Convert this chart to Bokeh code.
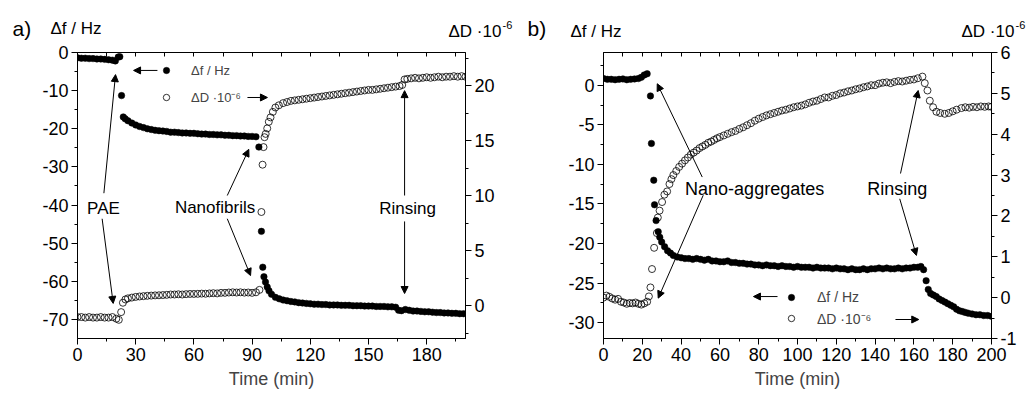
from bokeh.plotting import figure
from bokeh.models import (Range1d, LinearAxis, FixedTicker, Label, Arrow, NormalHead,
                          Legend, LegendItem)
from bokeh.core.properties import value
from bokeh.layouts import row, column
from bokeh.embed import file_html
from bokeh.resources import INLINE

# ---------------- data: panel a (PAE / nanofibrils) ----------------
ta_f = [0, 2, 4, 6, 8, 10, 12, 14, 16, 18,
        19.5, 21, 21.8, 22.7, 23.6, 24.6,
        26,
        28, 30, 32, 34, 36, 38, 40, 42, 44, 46,
        48, 50, 52, 54, 56, 58, 60, 62, 64, 66,
        68, 70, 72, 74, 76, 78, 80, 82, 84, 86,
        88, 90, 92,
        93.5, 94.8, 95.5, 96.1, 96.9, 97.8, 98.7,
        100, 102, 104, 106, 108, 110, 112, 114, 116, 118,
        120, 122, 124, 126, 128, 130, 132, 134, 136, 138,
        140, 142, 144, 146, 148, 150, 152, 154, 156, 158,
        160, 162, 164,
        165.5, 167,
        169, 171, 173, 175, 177, 179, 181, 183, 185, 187,
        189, 191, 193, 195, 197, 199]
fa = [-1.4, -1.5, -1.5, -1.6, -1.6, -1.7, -1.7, -1.8, -1.9, -2.0,
      -2.2, -1.2, -1.1, -11.3, -16.9, -17.4,
      -17.9,
      -18.5, -19.0, -19.4, -19.7, -20.0, -20.2, -20.4, -20.5, -20.6, -20.7,
      -20.9, -20.9, -21.0, -21.1, -21.1, -21.2, -21.2, -21.3, -21.4, -21.4,
      -21.5, -21.5, -21.6, -21.6, -21.7, -21.7, -21.8, -21.8, -21.9, -21.9,
      -22.0, -22.0, -22.1,
      -24.8, -46.9, -56.3, -58.8, -60.2, -61.5, -62.5,
      -63.4, -64.2, -64.6, -64.9, -65.1, -65.3, -65.4, -65.6, -65.7, -65.8,
      -65.9, -66.0, -66.0, -66.1, -66.1, -66.2, -66.2, -66.2, -66.3, -66.3,
      -66.3, -66.4, -66.4, -66.4, -66.5, -66.5, -66.5, -66.6, -66.6, -66.6,
      -66.7, -66.7, -66.8,
      -67.6, -67.7,
      -67.4, -67.6, -67.8, -67.8, -67.9, -68.0, -68.0, -68.1, -68.2, -68.2,
      -68.3, -68.3, -68.4, -68.4, -68.5, -68.5]

ta_d = [0, 2, 4, 6, 8, 10, 12, 14, 16, 18, 20,
        21.3, 22.5, 23.4, 24.7,
        26, 28, 30, 32, 34, 36, 38, 40, 42, 44,
        46, 48, 50, 52, 54, 56, 58, 60, 62, 64,
        66, 68, 70, 72, 74, 76, 78, 80, 82, 84,
        86, 88, 90, 92,
        93.8, 94.8, 95.4, 95.9, 96.4, 97.0, 97.8, 98.6, 99.5, 100.7, 102, 103.8,
        106, 108, 110, 112, 114, 116, 118, 120, 122, 124,
        126, 128, 130, 132, 134, 136, 138, 140, 142, 144,
        146, 148, 150, 152, 154, 156, 158, 160, 162, 164,
        166,
        167.4, 168.6,
        170, 172, 174, 176, 178, 180, 182, 184, 186, 188,
        190, 192, 194, 196, 198, 200]
da = [-1.05, -1.05, -1.1, -1.05, -1.1, -1.1, -1.05, -1.1, -1.1, -1.05, -1.2,
      -1.3, -0.6, 0.25, 0.55,
      0.65, 0.72, 0.78, 0.82, 0.85, 0.88, 0.9, 0.92, 0.93, 0.95,
      0.97, 1.0, 1.0, 1.02, 1.0, 1.03, 1.05, 1.05, 1.06, 1.08,
      1.07, 1.1, 1.12, 1.1, 1.15, 1.15, 1.18, 1.2, 1.18, 1.2,
      1.17, 1.18, 1.15, 1.2,
      1.42, 8.5, 12.8, 14.4, 15.3, 15.6, 16.1, 16.7, 17.1, 17.6, 18.0, 18.2,
      18.4, 18.5, 18.6, 18.65, 18.7, 18.75, 18.8, 18.85, 18.9, 18.95,
      19.0, 19.05, 19.1, 19.15, 19.2, 19.25, 19.3, 19.35, 19.4, 19.45,
      19.5, 19.55, 19.6, 19.6, 19.65, 19.7, 19.75, 19.8, 19.85, 19.9,
      19.95,
      20.05, 20.55,
      20.6, 20.65, 20.7, 20.65, 20.7, 20.75, 20.7, 20.75, 20.8, 20.75,
      20.8, 20.8, 20.85, 20.8, 20.85, 20.8]

# ---------------- data: panel b (nano-aggregates) ----------------
tb_f = [0, 2, 4, 6, 8, 10, 12, 14, 16, 18,
        19.5, 21, 22.5, 24.2, 24.7, 25.9, 26.3, 27.1, 28.2, 29, 30, 31.5, 33, 34.5, 36,
        38, 40,
        42, 44, 46, 48, 50, 52, 54, 56, 58, 60,
        62, 64, 66, 68, 70, 72, 74, 76, 78, 80,
        82, 84, 86, 88, 90, 92, 94, 96, 98, 100,
        102, 104, 106, 108, 110, 112, 114, 116, 118, 120,
        122, 124, 126, 128, 130, 132, 134, 136, 138, 140,
        142, 144, 146, 148, 150, 152, 154, 156, 158, 160,
        162,
        163.6, 165, 166.3, 167.4, 168.6,
        170, 171.5, 173, 174.5, 176, 177.5, 179, 180.5, 182, 183.5, 185, 186.5, 188,
        190, 192, 194, 196, 198, 200]
fb = [0.85, 0.75, 0.75, 0.7, 0.75, 0.8, 0.7, 0.75, 0.8, 0.85,
      1.0, 1.3, 1.45, -1.35, -7.35, -12.0, -15.1, -17.1, -18.5, -19.2, -19.8, -20.4, -20.9, -21.2, -21.5,
      -21.7, -21.8,
      -21.9, -21.9, -22.0, -21.9, -22.0, -22.1, -22.0, -22.2, -22.2, -22.3,
      -22.3, -22.2, -22.4, -22.4, -22.5, -22.5, -22.6, -22.6, -22.7, -22.7,
      -22.8, -22.7, -22.8, -22.8, -22.9, -22.8, -22.9, -22.9, -23.0, -22.9,
      -23.0, -23.0, -23.0, -23.1, -23.0, -23.1, -23.1, -23.1, -23.2, -23.1,
      -23.2, -23.2, -23.3, -23.2, -23.3, -23.3, -23.2, -23.3, -23.2, -23.2,
      -23.1, -23.2, -23.1, -23.2, -23.2, -23.1, -23.2, -23.1, -23.1, -23.0,
      -23.0,
      -22.9, -23.3, -24.7, -25.8, -26.3,
      -26.5, -26.7, -27.0, -27.2, -27.4, -27.6, -27.8, -28.0, -28.3, -28.5, -28.6, -28.7, -28.8,
      -28.9, -29.0, -29.0, -29.1, -29.1, -29.2]

tb_d = [0, 1.5, 3, 4.5, 6, 7.5, 9, 10.5, 12, 13.5, 15, 16.5, 18, 19.5, 21, 22.5,
        23.4, 24.2, 25.0, 26.1, 27.5, 28.0, 28.9, 30.2, 31.4,
        32.8, 34, 35, 36,
        37.5, 39, 40.5, 42, 43.5, 45, 46.5, 48, 49.5, 51, 52.5, 54, 55.5, 57, 58.5, 60,
        62, 64, 66, 68, 70, 72, 74, 76, 78, 80,
        82, 84, 86, 88, 90, 92, 94, 96, 98, 100,
        102, 104, 106, 108, 110, 112, 114, 116, 118, 120,
        122, 124, 126, 128, 130, 132, 134, 136, 138, 140,
        142, 144, 146, 148, 150, 152, 154, 156, 158, 160,
        162,
        164.4, 165.6, 167, 168.2, 169.9, 171.6, 173.5, 175.9, 178, 180,
        182, 184.5, 186.5, 188.5, 190.5, 192.5, 194.5, 196.5, 198.5, 200]
db = [0.0, 0.05, 0.02, -0.02, -0.05, -0.03, -0.1, -0.12, -0.15, -0.13, -0.14, -0.12, -0.15, -0.17, -0.14, -0.1,
      0.03, 0.25, 0.70, 1.22, 1.58, 1.96, 2.13, 2.34, 2.52,
      2.6, 2.78, 2.9, 3.0,
      3.1, 3.2, 3.28, 3.36, 3.43, 3.5, 3.55, 3.6, 3.66, 3.7, 3.74, 3.79, 3.82, 3.86, 3.9, 3.93,
      3.97, 4.01, 4.05, 4.08, 4.13, 4.17, 4.22, 4.27, 4.33, 4.38,
      4.42, 4.46, 4.49, 4.52, 4.55, 4.58, 4.6, 4.63, 4.66, 4.68,
      4.7, 4.73, 4.77, 4.8, 4.82, 4.86, 4.9, 4.9, 4.94, 4.96,
      5.0, 5.02, 5.05, 5.07, 5.1, 5.12, 5.15, 5.17, 5.2, 5.2,
      5.24, 5.26, 5.27, 5.25, 5.28, 5.3, 5.29, 5.31, 5.33, 5.34,
      5.37,
      5.41, 5.25, 5.07, 4.82, 4.66, 4.55, 4.52, 4.5, 4.52, 4.56,
      4.6, 4.64, 4.66, 4.65, 4.67, 4.66, 4.68, 4.67, 4.68, 4.67]

# tick definitions
a_xticks = [0, 30, 60, 90, 120, 150, 180]
a_xminor = [15, 45, 75, 105, 135, 165, 195]
a_top = [0, 15, 30, 45, 60, 75, 90, 105, 120, 135, 150, 165, 180, 195]
a_lticks = [-70, -60, -50, -40, -30, -20, -10, 0]
a_lminor = [-65, -55, -45, -35, -25, -15, -5]
a_rticks = [0, 5, 10, 15, 20]
a_rminor = [-2.5, 2.5, 7.5, 12.5, 17.5, 22.5]

b_xticks = [0, 20, 40, 60, 80, 100, 120, 140, 160, 180, 200]
b_xminor = [10, 30, 50, 70, 90, 110, 130, 150, 170, 190]
b_top = [0, 10, 20, 30, 40, 50, 60, 70, 80, 90, 100, 110, 120, 130, 140, 150, 160, 170, 180, 190, 200]
b_lticks = [-30, -25, -20, -15, -10, -5, 0]
b_lminor = [-27.5, -22.5, -17.5, -12.5, -7.5, -2.5, 2.5]
b_rticks = [-1, 0, 1, 2, 3, 4, 5, 6]
b_rminor = [-0.5, 0.5, 1.5, 2.5, 3.5, 4.5, 5.5]

FONT = "Liberation Sans"
HEADER_H = 41


def setup_axis(ax, ticks, minor, inward=False, labels=True, size="18px"):
    ax.ticker = FixedTicker(ticks=ticks, minor_ticks=minor)
    ax.axis_line_color = "black"
    ax.axis_line_width = 1
    ax.major_tick_line_color = "black"
    ax.minor_tick_line_color = "black"
    if inward:
        ax.major_tick_in, ax.major_tick_out = 4, 0
        ax.minor_tick_in, ax.minor_tick_out = 4, 0
    else:
        ax.major_tick_in, ax.major_tick_out = 0, 6
        ax.minor_tick_in, ax.minor_tick_out = 0, 3
    ax.major_label_text_font = FONT
    ax.major_label_text_font_size = size
    ax.major_label_text_color = "black"
    ax.major_label_standoff = 3
    # plain hyphen for negative numbers, as in the original figure
    ax.major_label_overrides = {t: ("%g" % t) for t in ticks}
    if not labels:
        ax.major_label_text_alpha = 0
        ax.major_label_text_font_size = "1px"
        ax.major_label_standoff = 0


def make_panel(xt, xm, topt, ylr, ylt, ylm, yrr, yrt, yrm, left, right):
    p = figure(width=513, height=394 - HEADER_H, x_range=Range1d(0, 200), y_range=Range1d(*ylr),
               min_border_left=left, min_border_right=right, min_border_top=52 - HEADER_H,
               min_border_bottom=56, output_backend="svg", toolbar_location=None)
    p.extra_y_ranges = {"D": Range1d(*yrr)}
    p.xgrid.visible = False
    p.ygrid.visible = False
    p.outline_line_color = "black"
    p.outline_line_width = 1
    bottom = p.below[0]
    setup_axis(bottom, xt, xm)
    bottom.major_label_standoff = 3
    bottom.axis_label = "Time (min)"
    bottom.axis_label_text_font = FONT
    bottom.axis_label_text_font_size = "18px"
    bottom.axis_label_text_font_style = "normal"
    bottom.axis_label_standoff = 5
    setup_axis(p.left[0], ylt, ylm)
    ra = LinearAxis(y_range_name="D")
    setup_axis(ra, yrt, yrm)
    p.add_layout(ra, "right")
    ta = LinearAxis()
    setup_axis(ta, topt, [], inward=True, labels=False)
    ta.axis_line_color = None
    p.add_layout(ta, "above")
    return p


def text(p, x, y, s, size, align="left"):
    p.add_layout(Label(x=x, y=y, text=s, text_font=FONT, text_font_size=size,
                       text_align=align, text_baseline="middle", text_color="black"))


def arrow(p, x0, y0, x1, y1):
    p.add_layout(Arrow(end=NormalHead(size=7, fill_color="black", line_color="black", line_width=1),
                       x_start=x0, y_start=y0, x_end=x1, y_end=y1,
                       line_color="black", line_width=1))


def legend(p, rf, rd, loc, size, spacing, standoff):
    leg = Legend(items=[LegendItem(label=value("Δf / Hz"), renderers=[rf]),
                        LegendItem(label=value("ΔD ·10⁻⁶"), renderers=[rd])],
                 location=loc, orientation="vertical", border_line_color=None,
                 background_fill_alpha=0, padding=0, margin=0, spacing=spacing,
                 glyph_width=16, glyph_height=20, label_height=20, label_standoff=standoff,
                 label_text_font=FONT, label_text_font_size=size, label_text_baseline="middle")
    p.add_layout(leg)


# ---------------- header strip with panel letters and axis titles ----------------
hdr = figure(width=1026, height=HEADER_H, x_range=Range1d(0, 1026), y_range=Range1d(HEADER_H, 0),
             min_border=0, x_axis_type=None, y_axis_type=None, output_backend="svg",
             toolbar_location=None)
hdr.outline_line_color = None
hdr.grid.visible = False
text(hdr, 12, 28, "a)", "21px")
text(hdr, 50, 28, "Δf / Hz", "17px")
text(hdr, 448, 31, "ΔD ·10", "17px")
text(hdr, 502, 24, "-6", "11px")
text(hdr, 527, 28, "b)", "21px")
text(hdr, 570, 31, "Δf / Hz", "17px")
text(hdr, 961, 31, "ΔD ·10", "17px")
text(hdr, 1015, 24, "-6", "11px")

# ---------------- panel a ----------------
pa = make_panel(a_xticks, a_xminor, a_top, (-75, 0), a_lticks, a_lminor,
                (-3, 23), a_rticks, a_rminor, 77, 48)
rda = pa.scatter(ta_d, da, y_range_name="D", marker="circle", size=7, fill_color=None,
                 line_color="black", line_width=0.8)
rfa = pa.scatter(ta_f, fa, marker="circle", size=6.5, fill_color="black",
                 line_color="black", line_width=0.5)
legend(pa, rfa, rda, (81, 231), "13px", 7, 17)
arrow(pa, 41.2, -4.7, 28.9, -4.7)
arrow(pa, 87.6, -11.8, 97.9, -11.8)
text(pa, 13.4, -41.0, "PAE", "17px", "center")
arrow(pa, 13.6, -36.9, 19.6, -5.8)
arrow(pa, 12.7, -43.6, 18.4, -65.8)
text(pa, 70.9, -40.7, "Nanofibrils", "17px", "center")
arrow(pa, 77.2, -37.5, 88.3, -25.4)
arrow(pa, 77.2, -43.6, 89.2, -58.5)
text(pa, 170.1, -41.0, "Rinsing", "17px", "center")
arrow(pa, 168.6, -37.5, 168.6, -10.0)
arrow(pa, 168.6, -44.3, 168.6, -63.2)

# ---------------- panel b ----------------
pb = make_panel(b_xticks, b_xminor, b_top, (-32, 4.14), b_lticks, b_lminor,
                (-1, 6), b_rticks, b_rminor, 90, 35)
rdb = pb.scatter(tb_d, db, y_range_name="D", marker="circle", size=7, fill_color=None,
                 line_color="black", line_width=0.8)
rfb = pb.scatter(tb_f, fb, marker="circle", size=6.5, fill_color="black",
                 line_color="black", line_width=0.5)
legend(pb, rfb, rdb, (180, 10), "14px", 1, 18)
arrow(pb, 89.7, -26.7, 77.3, -26.7)
arrow(pb, 150.5, -29.6, 162.5, -29.6)
text(pb, 77.9, -13.05, "Nano-aggregates", "18px", "center")
arrow(pb, 50.9, -11.6, 27.7, 0.19)
arrow(pb, 51.4, -13.9, 28.2, -26.9)
text(pb, 151.4, -13.05, "Rinsing", "18px", "center")
arrow(pb, 153.1, -11.15, 162.2, -0.66)
arrow(pb, 152.7, -14.35, 161.3, -21.5)

layout = column(hdr, row(pa, pb))
open("out.html", "w").write(file_html(layout, INLINE))
